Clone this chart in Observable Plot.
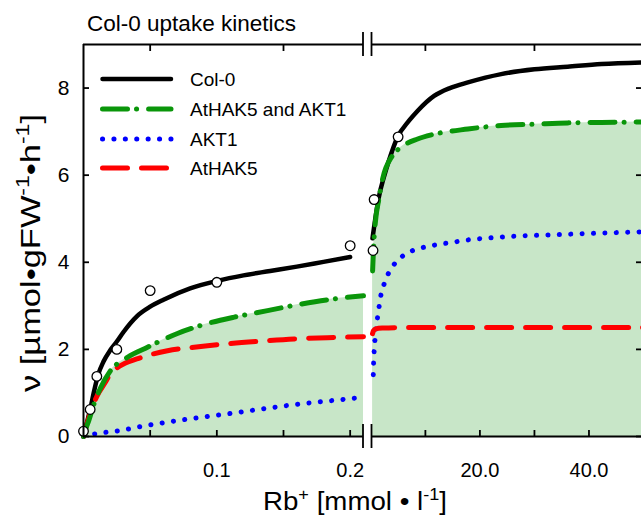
<!DOCTYPE html>
<html><head><meta charset="utf-8">
<script src="https://cdn.jsdelivr.net/npm/d3@7"></script>
<script src="https://cdn.jsdelivr.net/npm/@observablehq/plot@0.6"></script>
<style>body{margin:0;background:#fff} svg{display:block}</style>
</head><body><div id="chart"></div>
<script>
// ---------- data (Rb+ concentration in mmol/l, rate v) ----------
const seriesNames = ["Col-0", "AtHAK5 and AKT1", "AKT1", "AtHAK5"];

// left segment (0 – 0.21 mM)
const col0LeftC  = [0, 0.002, 0.005, 0.008, 0.011, 0.015, 0.02, 0.025, 0.03, 0.04, 0.05, 0.06, 0.08, 0.1, 0.12, 0.14, 0.16, 0.18, 0.2];
const col0LeftV  = [0, 0.25, 0.62, 1.05, 1.42, 1.72, 1.98, 2.18, 2.4, 2.76, 2.98, 3.14, 3.4, 3.57, 3.7, 3.8, 3.9, 4.01, 4.12];
const bothLeftC  = [0, 0.002, 0.004, 0.008, 0.013, 0.02, 0.033, 0.048, 0.07, 0.088, 0.113, 0.138, 0.163, 0.188, 0.21];
const bothLeftV  = [0, 0.2, 0.37, 0.76, 1.13, 1.5, 1.82, 2.05, 2.36, 2.55, 2.74, 2.89, 3.04, 3.16, 3.23];
const akt1LeftC  = [0, 0.005, 0.013, 0.028, 0.045, 0.063, 0.088, 0.113, 0.138, 0.163, 0.188, 0.209];
const akt1LeftV  = [0, 0.04, 0.08, 0.14, 0.24, 0.33, 0.44, 0.54, 0.65, 0.75, 0.83, 0.9];
const hak5LeftC  = [0, 0.003, 0.006, 0.0103, 0.0165, 0.0203, 0.0253, 0.0315, 0.04, 0.048, 0.063, 0.083, 0.108, 0.133, 0.158, 0.183, 0.21];
const hak5LeftV  = [0, 0.33, 0.62, 0.94, 1.25, 1.45, 1.58, 1.69, 1.78, 1.86, 1.97, 2.05, 2.13, 2.19, 2.24, 2.27, 2.29];

// right segment (0.21 – 50 mM)
const col0RightC = [0.3, 0.85, 1.46, 2.38, 3.3, 4.84, 7.0, 8.6, 11.6, 14.5, 17.8, 23.9, 30, 36.1, 42.3, 50];
const col0RightV = [4.55, 5.03, 5.49, 5.95, 6.33, 6.86, 7.25, 7.48, 7.82, 8.0, 8.13, 8.32, 8.43, 8.49, 8.55, 8.59];
const bothRightC = [0.32, 0.45, 0.6, 0.85, 1.46, 2.13, 3.97, 5.5, 8.57, 11.6, 17.8, 23.9, 30, 36.1, 42.3, 50];
const bothRightV = [3.8, 4.2, 4.55, 4.95, 5.45, 5.9, 6.45, 6.64, 6.83, 6.94, 7.06, 7.14, 7.17, 7.2, 7.21, 7.22];
const akt1RightC = [0.45, 0.5, 0.59, 0.72, 0.9, 1.21, 1.51, 1.82, 2.43, 3.24, 4.58, 6.54, 8.68, 10.7, 12.85, 14.7, 16.5, 23.9, 33.1, 42.3, 50];
const akt1RightV = [1.42, 1.67, 1.93, 2.16, 2.47, 2.72, 2.98, 3.23, 3.5, 3.75, 4.0, 4.2, 4.31, 4.37, 4.42, 4.45, 4.49, 4.58, 4.63, 4.67, 4.7];
const hak5RightC = [0.3, 0.5, 0.9, 2.1, 5, 10, 20, 30, 40, 50];
const hak5RightV = [2.36, 2.43, 2.47, 2.49, 2.5, 2.5, 2.5, 2.5, 2.5, 2.5];

// measured Col-0 points
const col0PointC = [0, 0.005, 0.01, 0.025, 0.05, 0.1, 0.2, 0.4, 0.6, 5];
const col0PointV = [0.12, 0.62, 1.38, 2.0, 3.35, 3.54, 4.38, 4.27, 5.44, 6.88];

// axis ticks
const xTicksBottom = [0.05, 0.1, 0.15, 0.2, 10, 20, 30, 40, 50];
const xTicksTop = [0.05, 0.15, 10, 30];
const xLabelTicks = [0.1, 0.2, 20, 40];
const xLabelText = ["0.1", "0.2", "20.0", "40.0"];
const yTicks = [0, 2, 4, 6, 8];

// ---------- build ----------
const rows = (c, v, seg) => c.map((x, i) => ({c: x, v: v[i], seg}));
const col0 = [...rows(col0LeftC, col0LeftV, "L"), ...rows(col0RightC, col0RightV, "R")];
const both = [...rows(bothLeftC, bothLeftV, "L"), ...rows(bothRightC, bothRightV, "R")];
const akt1 = [...rows(akt1LeftC, akt1LeftV, "L"), ...rows(akt1RightC, akt1RightV, "R")];
const hak5 = [...rows(hak5LeftC, hak5LeftV, "L"), ...rows(hak5RightC, hak5RightV, "R")];
const points = rows(col0PointC, col0PointV, "P");

const FONT = "'Liberation Sans', Arial, Helvetica, sans-serif";
const BLACK = "#000000", GREEN = "#0a960a", BLUE = "#0000ff", RED = "#ff0000", FILL = "#c8e6c8";
const styles = [
  {stroke: BLACK, width: 4.5, dash: null},
  {stroke: GREEN, width: 5, dash: "25 9 0.1 12"},
  {stroke: BLUE, width: 5, dash: "0.1 11.3"},
  {stroke: RED, width: 5, dash: "25 14"}
];
const lineOf = (data, s) => Plot.line(data, {x: "c", y: "v", z: "seg", stroke: s.stroke, strokeWidth: s.width,
  strokeDasharray: s.dash, strokeLinecap: "round", strokeLinejoin: "round", curve: "monotone-x"});

const W = 641, H = 518;
const chart = Plot.plot({
  width: W, height: H,
  marginLeft: 83, marginRight: 0, marginTop: 44, marginBottom: 82,
  style: {fontFamily: FONT, fontSize: "20px", background: "white", color: "black"},
  x: {type: "linear", domain: [0, 0.21, 0.2101, 50], range: [83, 363, 371.5, 643], axis: null},
  y: {domain: [0, 9], axis: null},
  marks: [
    Plot.areaY(both, {x: "c", y: "v", z: "seg", fill: FILL, curve: "monotone-x"}),
    lineOf(col0, styles[0]),
    lineOf(akt1, styles[2]),
    lineOf(hak5, styles[3]),
    lineOf(both, styles[1]),
    Plot.dot(points, {x: "c", y: "v", r: 4.8, fill: "white", stroke: "black", strokeWidth: 1.3}),
    // frame with break
    Plot.ruleY([0, 9], {x1: 0, x2: 0.21, strokeWidth: 2}),
    Plot.ruleY([0, 9], {x1: 0.2101, x2: 50, strokeWidth: 2}),
    Plot.ruleX([0, 50], {y1: 0, y2: 9, strokeWidth: 2}),
    // ticks (inward)
    Plot.axisX(xTicksBottom, {anchor: "bottom", tickSize: 6, inset: 6, fill: "none", strokeWidth: 1.8, label: null}),
    Plot.axisX(xTicksTop, {anchor: "top", tickSize: 6, inset: 6, fill: "none", strokeWidth: 1.8, label: null}),
    Plot.axisY(yTicks, {anchor: "left", tickSize: 6, inset: 6, fill: "none", strokeWidth: 1.8, label: null}),
    Plot.axisY(yTicks, {anchor: "right", tickSize: 6, inset: 6, fill: "none", strokeWidth: 1.8, label: null}),
    // tick labels
    Plot.axisX(xLabelTicks, {anchor: "bottom", tickSize: 0, tickPadding: 26, label: null, fontSize: 20,
      tickFormat: d => xLabelText[xLabelTicks.indexOf(d)]}),
    Plot.axisY(yTicks, {anchor: "left", tickSize: 0, tickPadding: 14, label: null, fontSize: 21})
  ]
});
document.getElementById("chart").append(chart);

// ---------- decorations (break marks, labels, legend) ----------
const svg = d3.select(chart);
const xs = chart.scale("x"), ys = chart.scale("y");
const g = svg.append("g").attr("font-family", FONT).attr("text-anchor", "start").attr("fill", "black");
for (const bx of [0.21, 0.2101]) {
  for (const by of [0, 9]) {
    const px = xs.apply(bx), py = ys.apply(by);
    g.append("line").attr("x1", px).attr("x2", px).attr("y1", py - 12).attr("y2", py + 12)
      .attr("stroke", "black").attr("stroke-width", 1.8);
  }
}
// title
g.append("text").attr("x", 87).attr("y", 31).attr("font-size", 22)
  .attr("textLength", 209).attr("lengthAdjust", "spacingAndGlyphs").text("Col-0 uptake kinetics");
// x label
const xl = g.append("text").attr("x", 355).attr("y", 510).attr("text-anchor", "middle").attr("font-size", 26)
  .attr("textLength", 184).attr("lengthAdjust", "spacingAndGlyphs");
xl.append("tspan").text("Rb");
xl.append("tspan").attr("dy", -10).attr("font-size", 17).text("+");
xl.append("tspan").attr("dy", 10).text(" [mmol • l");
xl.append("tspan").attr("dy", -10).attr("font-size", 17).text("-1");
xl.append("tspan").attr("dy", 10).text("]");
// y label
const yl = g.append("text").attr("transform", "translate(40,253) rotate(-90)").attr("text-anchor", "middle").attr("font-size", 27)
  .attr("textLength", 278).attr("lengthAdjust", "spacingAndGlyphs");
yl.append("tspan").text("ν [µmol•gFW");
yl.append("tspan").attr("dy", -11).attr("font-size", 18).text("-1");
yl.append("tspan").attr("dy", 11).text("•h");
yl.append("tspan").attr("dy", -11).attr("font-size", 18).text("-1");
yl.append("tspan").attr("dy", 11).text("]");
// legend
const legY = [79, 109, 139, 168];
seriesNames.forEach((name, i) => {
  const s = styles[i];
  g.append("line").attr("x1", 102.5).attr("x2", 171).attr("y1", legY[i]).attr("y2", legY[i])
    .attr("stroke", s.stroke).attr("stroke-width", s.width).attr("stroke-linecap", "round")
    .attr("stroke-dasharray", s.dash);
  g.append("text").attr("x", 190).attr("y", legY[i] + 6.8).attr("font-size", 19).text(name);
});
</script>
</body></html>
